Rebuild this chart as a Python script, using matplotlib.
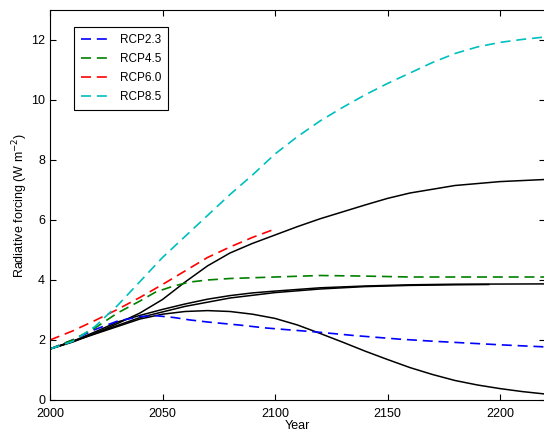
import numpy as np
import matplotlib
matplotlib.use("Agg")
import matplotlib.pyplot as plt

plt.rcParams['font.family'] = ['Liberation Sans', 'DejaVu Sans']

# RCP scenarios (dashed)
yr_26 = [2000, 2010, 2020, 2030, 2040, 2047, 2055, 2062, 2070, 2084, 2096, 2106, 2118, 2135, 2155, 2170, 2185, 2200, 2220]
rf_26 = [1.7, 2.0, 2.35, 2.63, 2.78, 2.81, 2.75, 2.67, 2.6, 2.5, 2.4, 2.34, 2.27, 2.15, 2.03, 1.96, 1.9, 1.84, 1.77]

yr_45 = [2000, 2010, 2020, 2030, 2040, 2047, 2055, 2062, 2070, 2080, 2100, 2120, 2140, 2160, 2220]
rf_45 = [1.7, 2.0, 2.4, 2.9, 3.3, 3.6, 3.8, 3.93, 4.0, 4.05, 4.1, 4.15, 4.13, 4.1, 4.1]

yr_60 = [2000, 2010, 2020, 2030, 2040, 2050, 2060, 2070, 2080, 2090, 2100]
rf_60 = [2.0, 2.3, 2.65, 3.02, 3.42, 3.85, 4.3, 4.75, 5.1, 5.42, 5.7]

yr_85 = [2000, 2010, 2020, 2030, 2040, 2050, 2060, 2070, 2080, 2090, 2100, 2110, 2120,
         2130, 2140, 2150, 2160, 2170, 2180, 2190, 2200, 2210, 2220]
rf_85 = [1.7, 1.95, 2.45, 3.15, 3.95, 4.75, 5.45, 6.15, 6.85, 7.5, 8.2, 8.78, 9.3,
         9.75, 10.17, 10.55, 10.9, 11.25, 11.55, 11.77, 11.92, 12.02, 12.1]

# model curves (solid black)
yr_a = [2000, 2010, 2020, 2030, 2040, 2050, 2060, 2070, 2080, 2090, 2100, 2110, 2120,
        2140, 2150, 2160, 2180, 2200, 2220]
rf_a = [1.7, 1.93, 2.22, 2.55, 2.9, 3.35, 3.93, 4.47, 4.9, 5.22, 5.5, 5.78, 6.04,
        6.5, 6.72, 6.9, 7.15, 7.28, 7.35]

yr_b = [2000, 2010, 2020, 2030, 2040, 2050, 2060, 2070, 2080, 2090, 2100, 2120, 2140, 2160, 2180, 2220]
rf_b = [1.7, 1.95, 2.27, 2.6, 2.82, 3.02, 3.2, 3.36, 3.48, 3.57, 3.63, 3.74, 3.8, 3.84, 3.86, 3.87]

yr_c = [2000, 2010, 2020, 2030, 2040, 2050, 2060, 2070, 2080, 2090, 2100, 2110, 2120, 2130,
        2140, 2150, 2160, 2170, 2180, 2190, 2200, 2210, 2220]
rf_c = [1.7, 1.95, 2.2, 2.45, 2.7, 2.86, 2.95, 2.98, 2.95, 2.86, 2.72, 2.5, 2.22, 1.93,
        1.63, 1.35, 1.08, 0.85, 0.65, 0.5, 0.38, 0.28, 0.2]

yr_d = [2000, 2020, 2040, 2060, 2080, 2100, 2120, 2140, 2160, 2180, 2195]
rf_d = [1.7, 2.22, 2.75, 3.12, 3.4, 3.58, 3.7, 3.78, 3.82, 3.84, 3.85]

fig = plt.figure(figsize=(5.44, 4.33), dpi=100)
ax = fig.add_axes([50 / 544, 33 / 433, 495 / 544, 390 / 433])

for x, y in [(yr_a, rf_a), (yr_b, rf_b), (yr_c, rf_c), (yr_d, rf_d)]:
    ax.plot(x, y, color='black', lw=1.1)

dash = (6, 3.5)
ax.plot(yr_26, rf_26, color='#0000ff', lw=1.2, dashes=dash, label='RCP2.3')
ax.plot(yr_45, rf_45, color='#008000', lw=1.2, dashes=dash, label='RCP4.5')
ax.plot(yr_60, rf_60, color='#ff0000', lw=1.2, dashes=dash, label='RCP6.0')
ax.plot(yr_85, rf_85, color='#00bfbf', lw=1.2, dashes=dash, label='RCP8.5')

ax.set_xlim(2000, 2220)
ax.set_ylim(0, 13)
ax.set_xticks([2000, 2050, 2100, 2150, 2200])
ax.set_yticks([0, 2, 4, 6, 8, 10, 12])
ax.tick_params(direction='in', top=True, right=True, length=4, labelsize=9, width=0.8)
ax.tick_params(axis='x', pad=6)
for s in ax.spines.values():
    s.set_linewidth(0.8)
ax.set_xlabel('Year', fontsize=9, labelpad=0)
ax.set_ylabel('Radiative forcing (W m$^{-2}$)', fontsize=9, labelpad=1)

leg = ax.legend(loc='upper left', bbox_to_anchor=(0.048, 0.957), borderaxespad=0, fontsize=8.5,
                handlelength=2.3, fancybox=False, edgecolor='black', framealpha=1,
                borderpad=0.6, labelspacing=0.6, handletextpad=1.0)
leg.get_frame().set_linewidth(0.8)

fig.savefig('out.png', dpi=100)
